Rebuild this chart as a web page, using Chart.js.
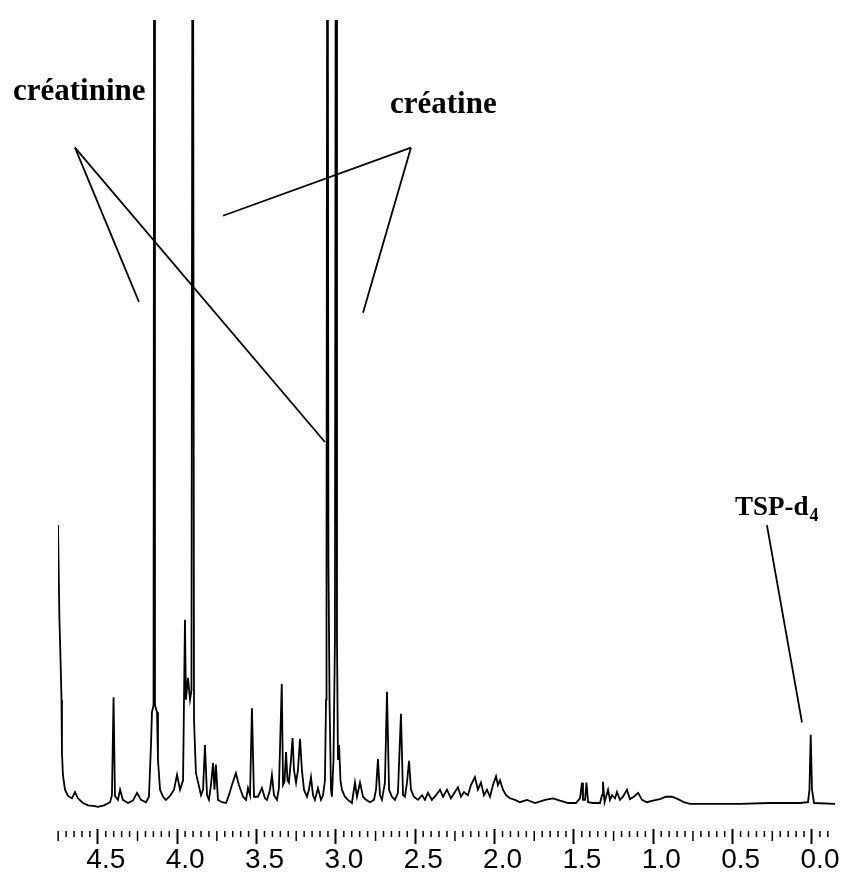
<!DOCTYPE html>
<html>
<head>
<meta charset="utf-8">
<script src="https://cdn.jsdelivr.net/npm/chart.js@4.4.0/dist/chart.umd.min.js"></script>
<style>
  html, body { margin: 0; background: #fff; }
  #wrap { width: 844px; height: 876px; }
</style>
</head>
<body>
<div id="wrap"><canvas id="nmr"></canvas></div>
<script>
// chemical shift (ppm) and intensity (% of plot height)
const ppm = [
  4.751, 4.742, 4.735, 4.729, 4.726, 4.720, 4.707, 4.688, 4.663, 4.644,
  4.625, 4.594, 4.562, 4.518, 4.499, 4.461, 4.423, 4.411, 4.401, 4.392,
  4.373, 4.360, 4.342, 4.310, 4.279, 4.253, 4.228, 4.197, 4.178, 4.165,
  4.159, 4.149, 4.144, 4.140, 4.127, 4.121, 4.108, 4.089, 4.071, 4.045,
  4.020, 4.001, 3.982, 3.963, 3.951, 3.945, 3.932, 3.919, 3.910, 3.902,
  3.894, 3.882, 3.869, 3.850, 3.837, 3.825, 3.812, 3.800, 3.787, 3.774,
  3.765, 3.756, 3.743, 3.718, 3.692, 3.674, 3.655, 3.630, 3.611, 3.585,
  3.566, 3.554, 3.541, 3.529, 3.516, 3.491, 3.466, 3.447, 3.434, 3.415,
  3.403, 3.390, 3.371, 3.359, 3.341, 3.333, 3.324, 3.314, 3.305, 3.296,
  3.283, 3.273, 3.264, 3.251, 3.239, 3.226, 3.214, 3.201, 3.182, 3.170,
  3.157, 3.144, 3.132, 3.113, 3.094, 3.081, 3.069, 3.062, 3.059, 3.053,
  3.047, 3.040, 3.031, 3.025, 3.015, 3.006, 2.999, 2.993, 2.987, 2.980,
  2.971, 2.962, 2.943, 2.924, 2.899, 2.880, 2.867, 2.848, 2.829, 2.810,
  2.785, 2.760, 2.747, 2.735, 2.722, 2.710, 2.691, 2.678, 2.665, 2.647,
  2.628, 2.609, 2.590, 2.577, 2.565, 2.552, 2.539, 2.527, 2.508, 2.483,
  2.457, 2.439, 2.420, 2.395, 2.369, 2.344, 2.325, 2.300, 2.275, 2.250,
  2.231, 2.212, 2.193, 2.168, 2.149, 2.124, 2.105, 2.086, 2.067, 2.048,
  2.029, 2.010, 1.991, 1.979, 1.966, 1.947, 1.928, 1.903, 1.871, 1.840,
  1.796, 1.745, 1.682, 1.632, 1.588, 1.537, 1.487, 1.462, 1.449, 1.443,
  1.430, 1.421, 1.411, 1.380, 1.336, 1.323, 1.317, 1.307, 1.285, 1.273,
  1.260, 1.241, 1.229, 1.210, 1.191, 1.166, 1.147, 1.122, 1.096, 1.071,
  1.040, 1.002, 0.958, 0.920, 0.882, 0.844, 0.807, 0.769, 0.643, 0.454,
  0.265, 0.076, 0.025, 0.016, 0.008, 0.000, -0.013, -0.145
];
const intensity = [
  35.5, 23.4, 18.3, 13.2, 6.4, 3.6, 1.7, 0.9, 0.6, 1.4,
  0.6, 0.0, -0.3, -0.4, -0.5, -0.3, 0.1, 1.0, 13.5, 0.9,
  0.4, 1.7, 0.4, 0.0, 0.3, 1.3, 0.4, 0.1, 0.8, 7.4,
  11.6, 12.5, 150, 12.5, 11.6, 5.5, 1.7, 0.8, 0.4, 0.9,
  1.7, 3.6, 1.7, 2.9, 23.4, 13.2, 16.0, 13.2, 14.4, 150,
  10.6, 3.8, 2.7, 1.0, 1.7, 7.4, 1.0, 0.4, 2.3, 5.1,
  1.7, 4.9, 0.4, 0.1, 0.0, 1.0, 2.3, 3.8, 2.3, 0.8,
  0.4, 1.9, 1.0, 12.1, 0.8, 0.8, 1.9, 0.6, 0.4, 1.7,
  3.6, 1.0, 0.4, 1.9, 15.2, 2.3, 2.7, 6.5, 2.9, 2.6,
  5.5, 8.3, 4.2, 2.6, 4.2, 8.2, 4.2, 1.7, 0.8, 1.7,
  3.3, 1.0, 0.4, 1.9, 0.4, 1.0, 2.9, 13.2, 31.0, 150,
  31.0, 13.2, 1.7, 0.8, 5.5, 20.8, 150, 20.8, 5.5, 7.4,
  2.9, 1.7, 0.8, 0.4, 0.0, 2.6, 0.8, 2.6, 0.8, 0.4,
  0.1, 0.4, 1.7, 5.6, 1.0, 0.4, 2.6, 14.2, 1.7, 0.8,
  0.4, 1.3, 11.4, 1.0, 0.8, 2.6, 5.4, 1.7, 0.8, 0.4,
  1.0, 0.4, 1.3, 0.4, 1.0, 1.7, 0.8, 1.7, 0.6, 1.4,
  2.0, 0.8, 1.4, 1.0, 2.3, 3.3, 1.7, 2.6, 1.0, 1.7,
  0.8, 2.3, 3.4, 2.3, 2.9, 1.7, 1.0, 0.6, 0.4, 0.1,
  0.4, 0.0, 0.4, 0.6, 0.3, 0.0, 0.0, 0.6, 2.6, 0.4,
  0.4, 2.6, 0.1, 0.0, 0.0, 1.0, 2.7, 0.1, 1.7, 0.4,
  1.0, 0.6, 1.4, 0.4, 0.8, 1.7, 0.5, 0.8, 1.3, 0.4,
  0.1, 0.3, 0.5, 0.8, 0.8, 0.5, 0.1, -0.1, -0.1, -0.1,
  0.0, 0.0, 0.1, 1.7, 8.7, 1.7, 0.0, -0.1
];
const tickValues = [4.5, 4.0, 3.5, 3.0, 2.5, 2.0, 1.5, 1.0, 0.5, 0.0];

// labels with their leader lines, in (ppm, intensity)
const notes = [
  { text: 'créatinine', at: [5.035, 89.8], from: [4.644, 83.7], to: [[4.241, 64.0], [3.069, 46.1]] },
  { text: 'créatine', at: [2.659, 88.1], from: [2.527, 83.7], to: [[3.711, 75.0], [2.829, 62.6]] },
  { text: 'TSP-d', sub: '4', at: [0.485, 36.8], from: [0.284, 35.5], to: [[0.063, 10.3]] }
];

const annotate = {
  id: 'annotate',
  afterDraw(chart) {
    const { ctx, chartArea } = chart;
    const xs = chart.scales.x, ys = chart.scales.y;
    const px = p => [xs.getPixelForValue(p[0]), ys.getPixelForValue(p[1])];
    ctx.save();

    // minor / medium tick marks under the axis
    ctx.strokeStyle = '#000';
    ctx.lineWidth = 1.5;
    for (let i = -2; i <= 95; i++) {
      if (i % 10 === 0) continue;
      const x = xs.getPixelForValue(i / 20);
      if (x < chartArea.left || x > chartArea.right) continue;
      const len = i % 5 === 0 ? 10 : 6;
      ctx.beginPath();
      ctx.moveTo(x, chartArea.bottom + 2);
      ctx.lineTo(x, chartArea.bottom + 2 + len);
      ctx.stroke();
    }

    // leader lines and labels
    ctx.lineWidth = 1.8;
    ctx.fillStyle = '#000';
    ctx.textBaseline = 'alphabetic';
    ctx.textAlign = 'left';
    notes.forEach(n => {
      const [fx, fy] = px(n.from);
      n.to.forEach(t => {
        const [tx, ty] = px(t);
        ctx.beginPath();
        ctx.moveTo(fx, fy);
        ctx.lineTo(tx, ty);
        ctx.stroke();
      });
      const [ax, ay] = px(n.at);
      ctx.font = 'bold 31px "Liberation Serif"';
      if (n.sub) ctx.font = 'bold 27px "Liberation Serif"';
      ctx.fillText(n.text, ax, ay);
      if (n.sub) {
        const w = ctx.measureText(n.text).width;
        ctx.font = 'bold 18px "Liberation Serif"';
        ctx.fillText(n.sub, ax + w + 1, ay + 6);
      }
    });
    ctx.restore();
  }
};

new Chart(document.getElementById('nmr'), {
  type: 'line',
  data: {
    datasets: [{
      data: ppm.map((v, i) => ({ x: v, y: intensity[i] })),
      borderColor: '#000',
      borderWidth: 1.8,
      pointRadius: 0,
      tension: 0,
      fill: false
    }]
  },
  options: {
    responsive: true,
    maintainAspectRatio: false,
    animation: false,
    layout: { padding: { top: 20, left: 58, right: 9, bottom: 0 } },
    plugins: {
      legend: { display: false },
      tooltip: { enabled: false }
    },
    scales: {
      x: {
        type: 'linear',
        reverse: true,
        min: -0.145,
        max: 4.751,
        afterBuildTicks: scale => {
          scale.ticks = tickValues.map(v => ({ value: v }));
        },
        ticks: {
          callback: v => v.toFixed(1),
          color: '#000',
          padding: 2,
          labelOffset: 8,
          maxRotation: 0,
          autoSkip: false,
          font: { family: '"Liberation Sans", Arial, sans-serif', size: 28, lineHeight: 1 }
        },
        grid: {
          drawOnChartArea: false,
          drawTicks: true,
          tickLength: 15,
          tickWidth: 2,
          tickColor: '#000'
        },
        border: { display: false }
      },
      y: {
        display: false,
        min: -3.32,
        max: 100
      }
    }
  },
  plugins: [annotate]
});
</script>
</body>
</html>
